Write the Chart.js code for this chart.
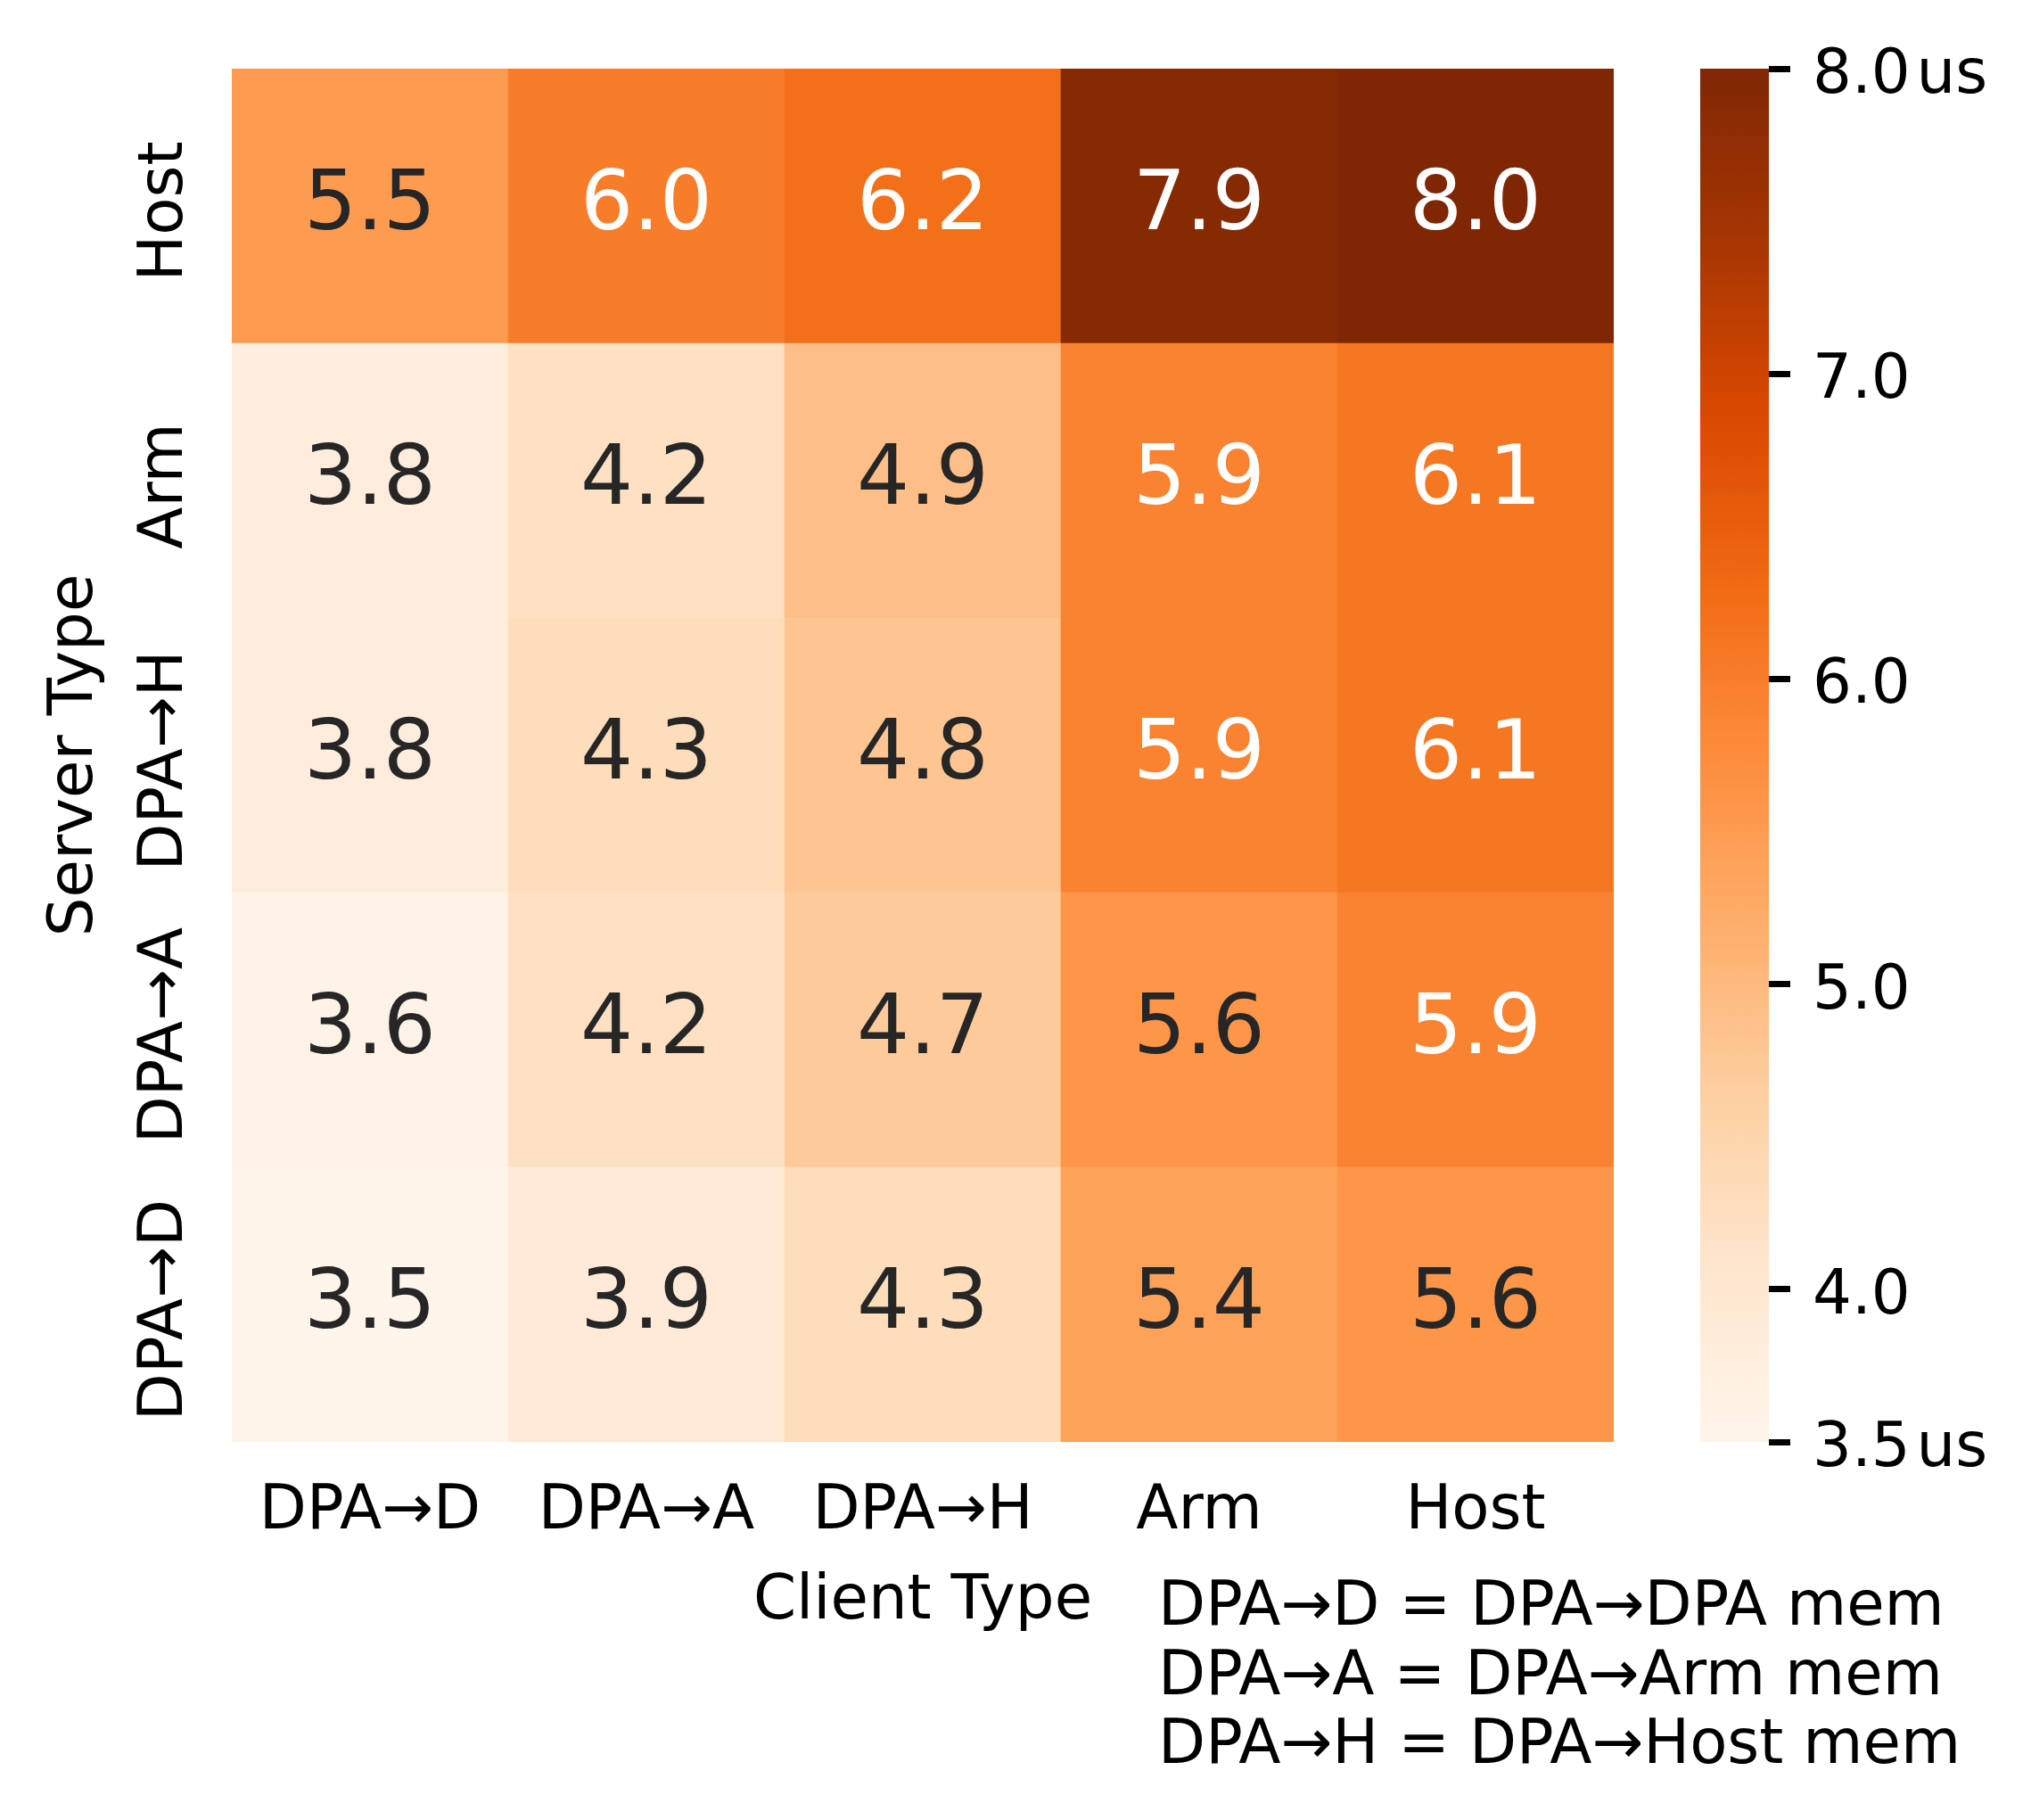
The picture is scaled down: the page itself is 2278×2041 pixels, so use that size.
<!DOCTYPE html>
<html>
<head>
<meta charset="utf-8">
<script src="https://cdn.jsdelivr.net/npm/chart.js@4.4.1/dist/chart.umd.min.js"></script>
<style>
  html, body { margin: 0; padding: 0; background: #fff; }
  #wrap { position: relative; width: 2278px; height: 2041px; }
  #wrap canvas { position: absolute; left: 0; top: 0; }
</style>
</head>
<body>
<div id="wrap">
  <canvas id="heatmap" width="2278" height="2041"></canvas>
  <canvas id="colorbar" width="2278" height="2041"></canvas>
</div>
<script>
// columns (client) and rows (server, bottom to top)
const clientTypes = ['DPA→D', 'DPA→A', 'DPA→H', 'Arm', 'Host'];
const serverTypes = ['DPA→D', 'DPA→A', 'DPA→H', 'Arm', 'Host'];
const latDpaD = [3.5, 3.9, 4.3, 5.4, 5.6];
const latDpaA = [3.6, 4.2, 4.7, 5.6, 5.9];
const latDpaH = [3.8, 4.3, 4.8, 5.9, 6.1];
const latArm = [3.8, 4.2, 4.9, 5.9, 6.1];
const latHost = [5.5, 6.0, 6.2, 7.9, 8.0];
const serverRows = [latDpaD, latDpaA, latDpaH, latArm, latHost];

const cbarMin = 3.5;
const cbarMax = 8.0;
const cbarTicks = [3.5, 4.0, 5.0, 6.0, 7.0, 8.0];
const unit = 'us';
const notes = ['DPA→D = DPA→DPA mem', 'DPA→A = DPA→Arm mem', 'DPA→H = DPA→Host mem'];

const FONT = "'DejaVu Sans', sans-serif";
Chart.defaults.font.family = FONT;

// matplotlib "Oranges"
const ORANGES = ['#fff5eb', '#fee6ce', '#fdd0a2', '#fdae6b', '#fd8d3c',
  '#f16913', '#d94801', '#a63603', '#7f2704'].map(h => [
  parseInt(h.slice(1, 3), 16), parseInt(h.slice(3, 5), 16), parseInt(h.slice(5, 7), 16)]);

function oranges(t) {
  t = Math.min(1, Math.max(0, t));
  const p = t * (ORANGES.length - 1);
  const i = Math.min(Math.floor(p), ORANGES.length - 2);
  const f = p - i;
  const a = ORANGES[i], b = ORANGES[i + 1];
  return a.map((c, k) => Math.round(c + (b[k] - c) * f));
}
const rgbStr = c => `rgb(${c[0]},${c[1]},${c[2]})`;
const cellColor = v => oranges((v - cbarMin) / (cbarMax - cbarMin));

// same rule seaborn uses for annotation colour
function textColor(rgb) {
  const lin = rgb.map(c => {
    c /= 255;
    return c <= 0.03928 ? c / 12.92 : Math.pow((c + 0.055) / 1.055, 2.4);
  });
  const lum = 0.2126 * lin[0] + 0.7152 * lin[1] + 0.0722 * lin[2];
  return lum > 0.408 ? '#262626' : '#ffffff';
}

const heatmapText = {
  id: 'heatmapText',
  afterDatasetsDraw(chart) {
    const ctx = chart.ctx;
    const { left, top, bottom } = chart.chartArea;
    const yScale = chart.scales.y;
    ctx.save();

    // cell values
    ctx.font = `93px ${FONT}`;
    ctx.textAlign = 'center';
    ctx.textBaseline = 'alphabetic';
    chart.data.datasets.forEach((ds, di) => {
      chart.getDatasetMeta(di).data.forEach((bar, j) => {
        const v = ds.latency[j];
        ctx.fillStyle = textColor(cellColor(v));
        const cy = (bar.y + bar.base) / 2;
        ctx.fillText(v.toFixed(1), bar.x, cy + 26);
      });
    });

    // server tick labels, rotated
    ctx.font = `69px ${FONT}`;
    ctx.fillStyle = '#000';
    serverTypes.forEach((name, i) => {
      const cy = yScale.getPixelForValue(i + 0.5);
      ctx.save();
      ctx.translate(left - 56, cy + 6);
      ctx.rotate(-Math.PI / 2);
      ctx.fillText(name, 0, 0);
      ctx.restore();
    });

    ctx.save();
    ctx.translate(left - 157, (top + bottom) / 2);
    ctx.rotate(-Math.PI / 2);
    ctx.fillText('Server Type', 0, 0);
    ctx.restore();

    // abbreviation notes
    ctx.textAlign = 'left';
    notes.forEach((line, i) => ctx.fillText(line, 1299, 1822 + i * 77.5));
    ctx.restore();
  }
};

new Chart(document.getElementById('heatmap'), {
  type: 'bar',
  data: {
    labels: clientTypes,
    datasets: serverRows.map((vals, i) => ({
      label: serverTypes[i],
      data: vals.map(() => 1),
      latency: vals,
      backgroundColor: vals.map(v => rgbStr(cellColor(v))),
      borderWidth: 0,
      barPercentage: 1,
      categoryPercentage: 1
    }))
  },
  options: {
    responsive: false,
    animation: false,
    devicePixelRatio: 1,
    layout: { padding: { left: 0, right: 468, top: 77, bottom: 203 } },
    plugins: { legend: { display: false }, tooltip: { enabled: false } },
    scales: {
      x: {
        stacked: true,
        grid: { display: false, drawTicks: false },
        border: { display: false },
        ticks: { color: '#000', font: { size: 69 }, padding: 38, maxRotation: 0, autoSkip: false },
        title: { display: true, text: 'Client Type', color: '#000', font: { size: 69 }, padding: 0 },
        afterFit(s) { s.height = 221; }
      },
      y: {
        stacked: true,
        min: 0,
        max: 5,
        ticks: { display: false },
        grid: { display: false, drawTicks: false },
        border: { display: false },
        afterFit(s) { s.width = 260; }
      }
    }
  },
  plugins: [heatmapText]
});

function gradientFill(context) {
  const chart = context.chart;
  if (!chart.chartArea) return null;
  const y = chart.scales.y;
  const g = chart.ctx.createLinearGradient(0, y.getPixelForValue(cbarMin), 0, y.getPixelForValue(cbarMax));
  for (let i = 0; i <= 64; i++) g.addColorStop(i / 64, rgbStr(oranges(i / 64)));
  return g;
}

new Chart(document.getElementById('colorbar'), {
  type: 'bar',
  data: {
    labels: [''],
    datasets: [{
      data: [[cbarMin, cbarMax]],
      backgroundColor: gradientFill,
      borderWidth: 0,
      borderSkipped: false,
      barPercentage: 1,
      categoryPercentage: 1
    }]
  },
  options: {
    responsive: false,
    animation: false,
    devicePixelRatio: 1,
    layout: { padding: { left: 1907, right: 0, top: 77, bottom: 424 } },
    plugins: { legend: { display: false }, tooltip: { enabled: false } },
    scales: {
      x: { display: false },
      y: {
        position: 'right',
        min: cbarMin,
        max: cbarMax,
        afterBuildTicks(s) { s.ticks = cbarTicks.map(v => ({ value: v })); },
        afterFit(s) { s.width = 294; },
        grid: { drawOnChartArea: false, drawTicks: true, tickLength: 24, tickWidth: 7, tickColor: '#000' },
        border: { display: false },
        ticks: {
          color: '#000',
          font: { size: 69 },
          padding: 25,
          labelOffset: 9,
          callback: v => (v === cbarMin || v === cbarMax) ? v.toFixed(1) + '\u200A' + unit : v.toFixed(1)
        }
      }
    }
  }
});
</script>
</body>
</html>
